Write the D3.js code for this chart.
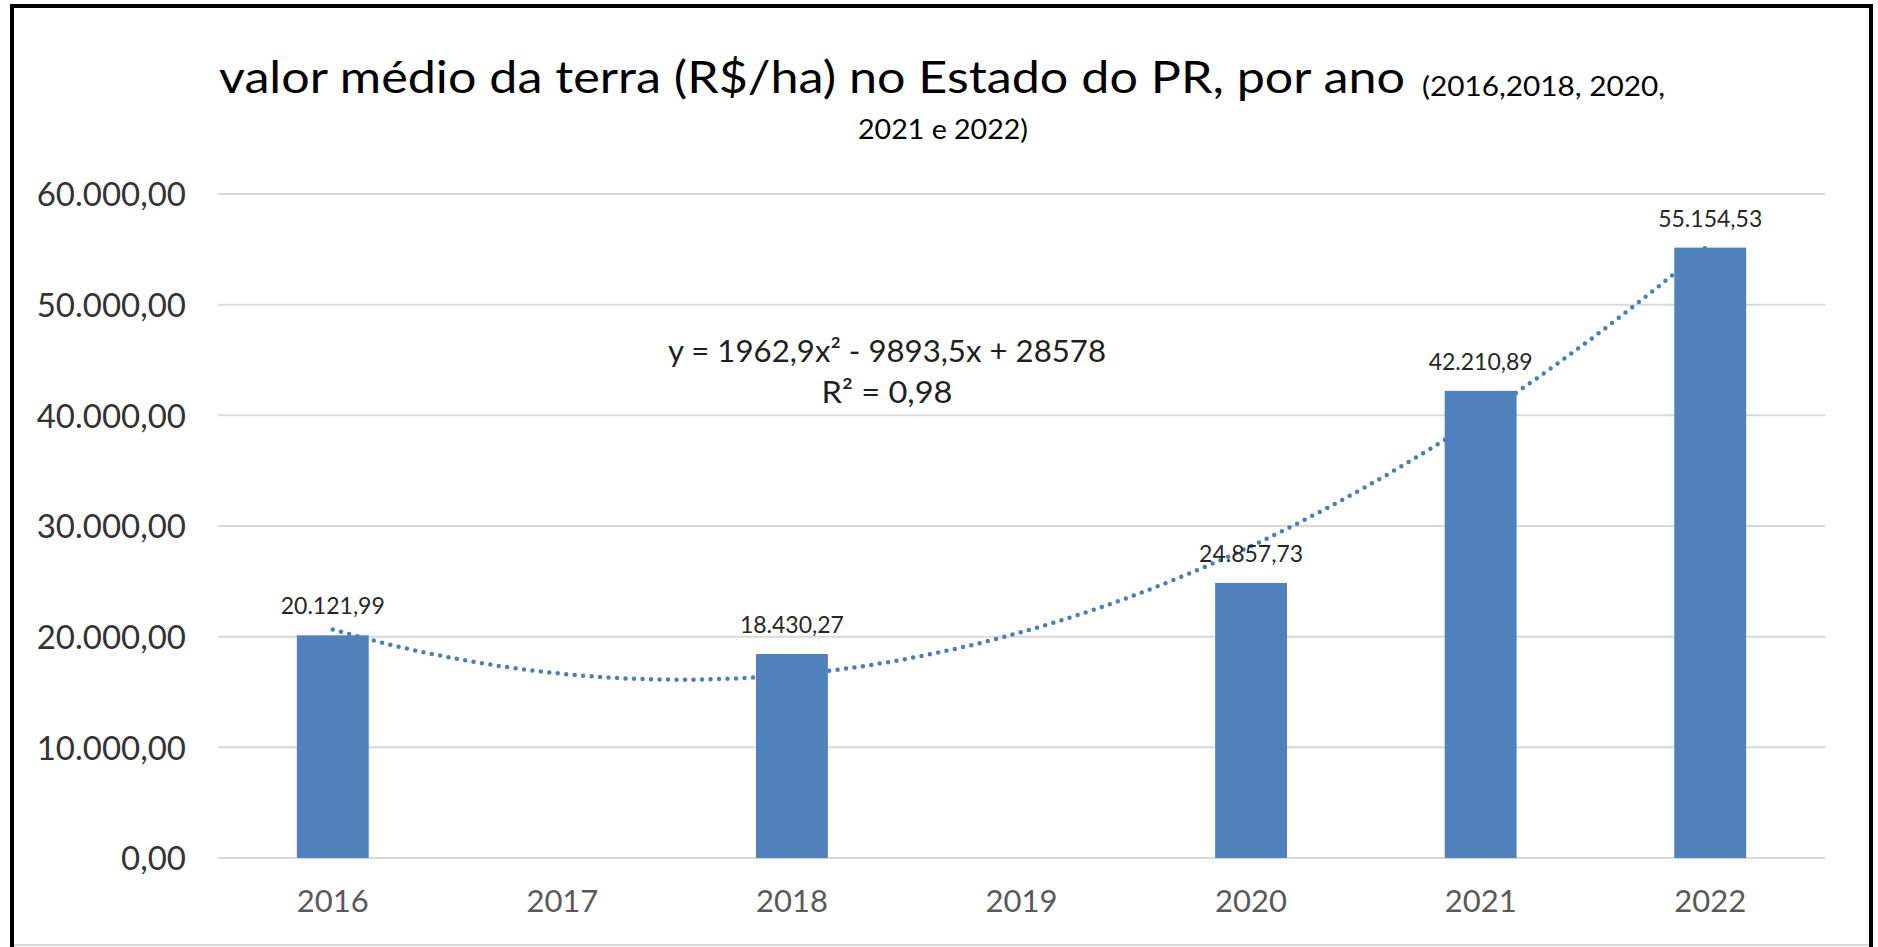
<!DOCTYPE html>
<html>
<head>
<meta charset="utf-8">
<script src="https://cdnjs.cloudflare.com/ajax/libs/d3/7.8.5/d3.min.js"></script>
<style>
  body { margin: 0; background: #ffffff; }
  svg text { font-family: Lato, "Open Sans", sans-serif; }
</style>
</head>
<body>
<div id="chart"></div>
<script>

// chart data (valor medio da terra, R$/ha)
var years = ["2016", "2017", "2018", "2019", "2020", "2021", "2022"]
var values = [20121.99, null, 18430.27, null, 24857.73, 42210.89, 55154.53]
var yTicks = [0, 10000, 20000, 30000, 40000, 50000, 60000]

// trendline as printed on the chart (polinomial, ordem 2)
var trendCoef = [1962.9, -9893.5, 28578]
var trendText = ["y = 1962,9x\u00b2 - 9893,5x + 28578", "R\u00b2 = 0,98"]

var titleMain = "valor médio da terra (R$/ha) no Estado do PR, por ano"
var titleSmall = ["(2016,2018, 2020,", "2021 e 2022)"]

// size of the page and plot area
var W = 1878, H = 947
var plot = {left: 218, right: 1825, top: 194, bottom: 858}

// brazilian number format
var br = d3.formatLocale({decimal: ",", thousands: ".", grouping: [3], currency: ["R$ ", ""]})
var fmt = br.format(",.2f")

var svg = d3.select("#chart").append("svg")
    .attr("width", W)
    .attr("height", H)

// white background and black frame
svg.append("rect")
    .attr("x", 0).attr("y", 0)
    .attr("width", W).attr("height", H)
    .attr("fill", "#ffffff")

svg.append("rect")
    .attr("x", 12).attr("y", 6)
    .attr("width", 1859).attr("height", 960)
    .attr("fill", "none")
    .attr("stroke", "#000")
    .attr("stroke-width", 4)

svg.append("line")
    .attr("x1", 14).attr("x2", 1869)
    .attr("y1", 945).attr("y2", 945)
    .attr("stroke", "#d6d6d6")
    .attr("stroke-width", 2)

// scales
var x = d3.scaleBand()
    .domain(years)
    .range([plot.left, plot.right])
    .paddingInner(0.687)
    .paddingOuter(0.3435)

var y = d3.scaleLinear()
    .domain([0, 60000])
    .range([plot.bottom, plot.top])

// gridlines
svg.append("g")
    .attr("class", "grid")
    .selectAll("line")
    .data(yTicks)
    .enter().append("line")
    .attr("x1", plot.left)
    .attr("x2", plot.right)
    .attr("y1", function(d) { return y(d) })
    .attr("y2", function(d) { return y(d) })
    .attr("stroke", "#d9d9d9")
    .attr("stroke-width", 2)

// y axis labels
var yAxis = svg.append("g")
    .attr("class", "axis")
    .attr("transform", "translate(" + (plot.left - 32) + ",0)")
    .call(d3.axisLeft(y).tickValues(yTicks).tickSize(0).tickFormat(fmt))

yAxis.select(".domain").remove()
yAxis.selectAll("text")
    .attr("x", 0)
    .attr("dy", "0.36em")
    .style("font-size", "33px")
    .style("font-family", "Lato, sans-serif")
    .attr("fill", "#333333")

// x axis labels
var xAxis = svg.append("g")
    .attr("class", "axis")
    .attr("transform", "translate(0," + plot.bottom + ")")
    .call(d3.axisBottom(x).tickSize(0))

xAxis.select(".domain").remove()
xAxis.selectAll("text")
    .attr("y", 54)
    .attr("dy", 0)
    .style("font-size", "31px")
    .style("font-family", "Lato, sans-serif")
    .attr("fill", "#595959")

// trendline, drawn behind the bars (x = category index 1..7)
var step = x.step()
var x0 = x(years[0]) + x.bandwidth() / 2
var trendPts = d3.range(1, 7.001, 0.05).map(function(t) {
    return [x0 + (t - 1) * step, trendCoef[0] * t * t + trendCoef[1] * t + trendCoef[2]]
})

svg.append("path")
    .datum(trendPts)
    .attr("fill", "none")
    .attr("stroke", "#4a7ebb")
    .attr("stroke-width", 4.5)
    .attr("stroke-linecap", "round")
    .attr("stroke-dasharray", "0,8.5")
    .attr("d", d3.line()
        .x(function(d) { return d[0] })
        .y(function(d) { return y(d[1]) }))

// bars
var barData = years.map(function(d, i) { return {year: d, value: values[i]} })
    .filter(function(d) { return d.value != null })

svg.selectAll(".bar")
    .data(barData)
    .enter().append("rect")
    .attr("class", "bar")
    .attr("x", function(d) { return x(d.year) })
    .attr("width", x.bandwidth())
    .attr("y", function(d) { return y(d.value) })
    .attr("height", function(d) { return plot.bottom - y(d.value) })
    .attr("fill", "#4f81bd")

// value labels above bars
svg.selectAll(".bar_text")
    .data(barData)
    .enter().append("text")
    .attr("class", "bar_text")
    .attr("x", function(d) { return x(d.year) + x.bandwidth() / 2 })
    .attr("y", function(d) { return y(d.value) - 21 })
    .attr("text-anchor", "middle")
    .style("font-size", "23px")
    .attr("fill", "#262626")
    .text(function(d) { return fmt(d.value) })

// trendline equation
svg.append("text")
    .attr("x", 887).attr("y", 362)
    .attr("text-anchor", "middle")
    .style("font-size", "31px")
    .attr("fill", "#1f1f1f")
    .attr("textLength", 438)
    .attr("lengthAdjust", "spacingAndGlyphs")
    .text(trendText[0])

svg.append("text")
    .attr("x", 887).attr("y", 403)
    .attr("text-anchor", "middle")
    .style("font-size", "31px")
    .attr("fill", "#1f1f1f")
    .attr("textLength", 131)
    .attr("lengthAdjust", "spacingAndGlyphs")
    .text(trendText[1])

// title
svg.append("text")
    .attr("x", 219).attr("y", 93)
    .style("font-size", "44px")
    .attr("fill", "#000")
    .attr("textLength", 1186)
    .attr("lengthAdjust", "spacingAndGlyphs")
    .text(titleMain)

svg.append("text")
    .attr("x", 1422).attr("y", 96)
    .style("font-size", "27px")
    .attr("fill", "#000")
    .attr("textLength", 243)
    .attr("lengthAdjust", "spacingAndGlyphs")
    .text(titleSmall[0])

svg.append("text")
    .attr("x", 943).attr("y", 139)
    .attr("text-anchor", "middle")
    .style("font-size", "27px")
    .attr("fill", "#000")
    .attr("textLength", 170)
    .attr("lengthAdjust", "spacingAndGlyphs")
    .text(titleSmall[1])

</script>
</body>
</html>
